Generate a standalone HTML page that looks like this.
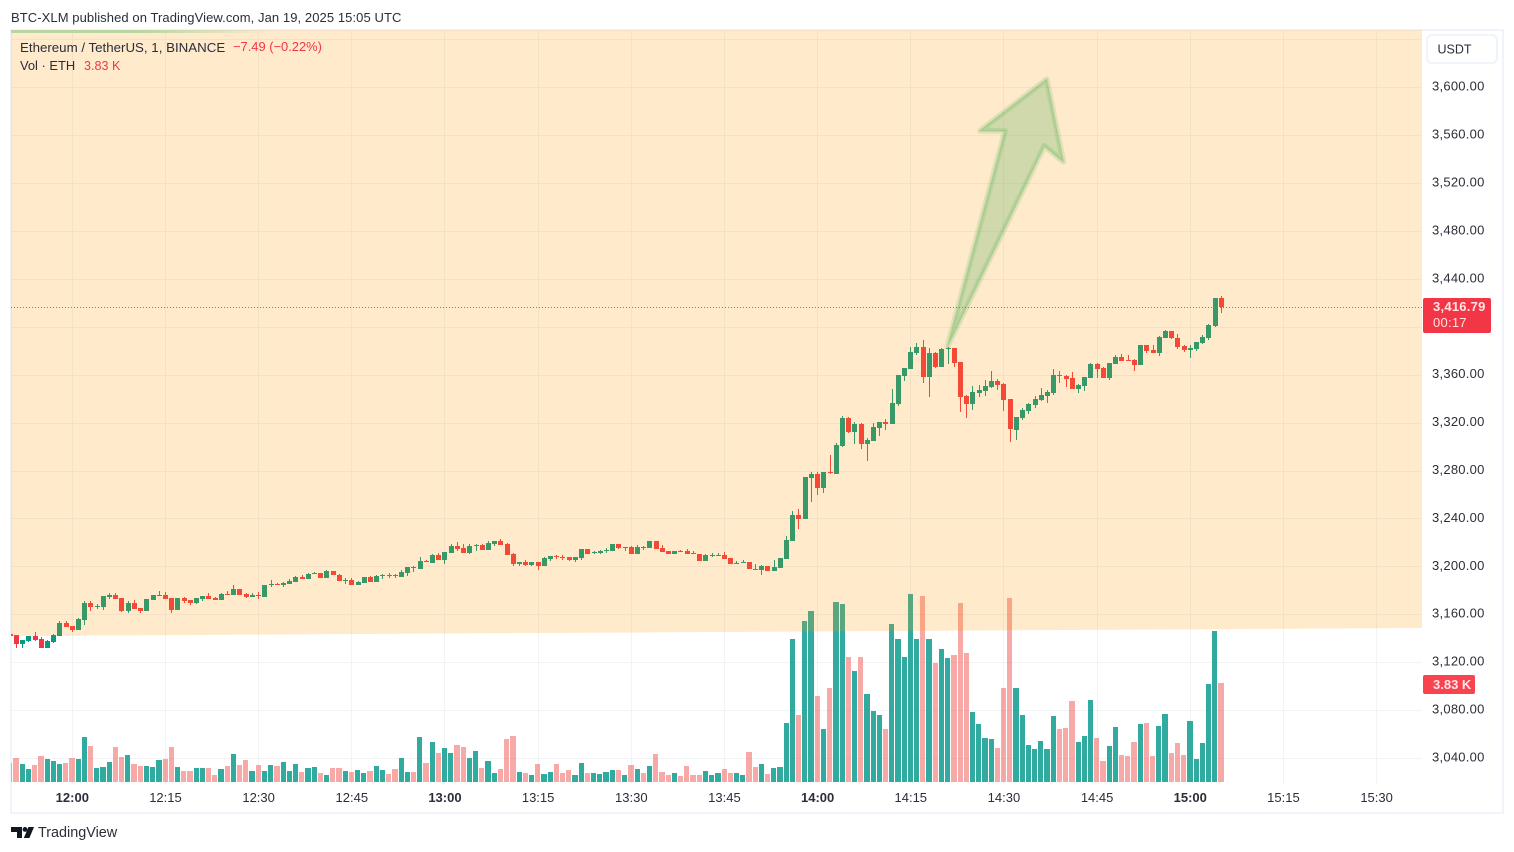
<!DOCTYPE html>
<html lang="en">
<head>
<meta charset="utf-8">
<title>ETHUSDT chart</title>
<style>
html,body{margin:0;padding:0;background:#fff;width:1514px;height:852px;overflow:hidden}
body{position:relative;font-family:"Liberation Sans",sans-serif;color:#2a2e39}
.t{position:absolute;white-space:nowrap;line-height:1}
svg{position:absolute;left:0;top:0}
svg text{font-family:"Liberation Sans",sans-serif}
</style>
</head>
<body>
<svg id="chart" width="1514" height="852" viewBox="0 0 1514 852">
  <defs>
    <clipPath id="pane"><rect x="11" y="30" width="1411" height="755"/></clipPath>
    <linearGradient id="strip" x1="0" x2="1" y1="0" y2="0">
      <stop offset="0" stop-color="#b9d6a0"/><stop offset="0.5" stop-color="#b9d6a0"/><stop offset="1" stop-color="#b9d6a0" stop-opacity="0"/>
    </linearGradient>
  </defs>
  <rect x="11" y="30" width="1492" height="783" fill="#fff" stroke="#f0f3fa" stroke-width="2"/>
  <g id="grid" clip-path="url(#pane)"></g>
  <g id="volumes" clip-path="url(#pane)"></g>
  <g id="candles" clip-path="url(#pane)"></g>
  <line id="lastLine" x1="11" x2="1422" stroke="#f23645" stroke-width="1" stroke-dasharray="1 2"/>
  <polygon points="11,30 1422,30 1422,628 11,636" fill="rgba(255,152,0,0.2)"/>
  <rect x="11" y="30" width="260" height="3" fill="url(#strip)"/>
  <g>
    <polygon points="947.5,346.5 1005,131 980,130.7 1046.7,79.3 1063.3,161.7 1044.3,146" fill="rgba(76,175,80,0.27)" stroke="rgba(76,175,80,0.17)" stroke-width="6" stroke-linejoin="round"/>
    <polygon points="947.5,346.5 1005,131 980,130.7 1046.7,79.3 1063.3,161.7 1044.3,146" fill="none" stroke="rgba(76,175,80,0.2)" stroke-width="2" stroke-linejoin="round"/>
  </g>
  <g id="priceAxis"></g>
  <g id="timeAxis"></g>
  <rect x="1427" y="35" width="70" height="28" rx="5" fill="#fff" stroke="#f0f3fa" stroke-width="2"/>
  <text x="1437.5" y="53.5" font-size="12.5" fill="#2a2e39">USDT</text>
  <rect x="1423" y="298" width="68" height="35" rx="2" fill="#f23645"/>
  <text x="1433" y="311" font-size="13" font-weight="bold" letter-spacing="0.25" fill="#ffe4e6">3,416.79</text>
  <text x="1433" y="327" font-size="13" letter-spacing="0.25" fill="#ffe4e6">00:17</text>
  <rect x="1423" y="675" width="52" height="19" rx="2" fill="#f9444f"/>
  <text x="1433" y="689" font-size="13" font-weight="bold" fill="#ffe4e6">3.83 K</text>
  <g fill="#131722">
    <path d="M11 827h11v11h-5v-6h-6z"/>
    <circle cx="25" cy="829.4" r="2.4"/>
    <path d="M28.5 827h5.5l-4.6 11h-5.6z"/>
  </g>
</svg>

<div class="t" style="left:11px;top:11px;font-size:13px;letter-spacing:0.08px;color:#2a2e39">BTC-XLM published on TradingView.com, Jan 19, 2025 15:05 UTC</div>
<div class="t" style="left:20px;top:41px;font-size:13.3px;color:#2a2e39">Ethereum / TetherUS, 1, BINANCE</div>
<div class="t" style="left:233px;top:41px;font-size:12.9px;color:#f23645">−7.49 (−0.22%)</div>
<div class="t" style="left:20px;top:60px;font-size:12.9px;color:#2a2e39">Vol · ETH</div>
<div class="t" style="left:84px;top:60px;font-size:12.6px;color:#f23645">3.83 K</div>
<div class="t" style="left:38px;top:826px;font-size:14.4px;color:#2a2e39">TradingView</div>

<script>
const priceTicks = [3640,3600,3560,3520,3480,3440,3400,3360,3320,3280,3240,3200,3160,3120,3080,3040];
const priceLabels = ['', '3,600.00','3,560.00','3,520.00','3,480.00','3,440.00','','3,360.00','3,320.00','3,280.00','3,240.00','3,200.00','3,160.00','3,120.00','3,080.00','3,040.00'];
const timeLabels = ['12:00','12:15','12:30','12:45','13:00','13:15','13:30','13:45','14:00','14:15','14:30','14:45','15:00','15:15','15:30'];
const timeMinutes = [0,15,30,45,60,75,90,105,120,135,150,165,180,195,210];
const boldTimes = ['12:00','13:00','14:00','15:00'];
const firstMinute = -10;
const opens = [3143.5,
3142.7,3135.2,3137.7,3141.8,3139.3,3131.8,3136.8,3141.8,3152.7,3150.2,
3146.8,3155.2,3169.4,3166.3,3166.0,3174.4,3176.0,3173.5,3162.7,3169.4,
3165.2,3162.7,3171.9,3175.2,3176.0,3173.5,3163.5,3173.5,3171.9,3169.4,
3172.7,3175.2,3173.5,3171.9,3176.9,3176.0,3181.1,3176.9,3174.4,3176.0,
3174.4,3184.4,3185.2,3184.4,3185.2,3186.9,3191.1,3189.4,3193.9,3194.4,
3190.2,3196.1,3192.7,3187.7,3188.6,3184.4,3186.1,3191.1,3186.9,3191.9,
3192.7,3192.7,3191.1,3194.4,3199.4,3197.8,3204.4,3202.8,3209.4,3205.3,
3211.1,3217.0,3215.3,3211.1,3217.5,3217.8,3213.6,3218.6,3221.1,3218.6,
3210.3,3201.9,3203.6,3201.1,3203.6,3200.3,3206.1,3208.6,3208.0,3207.8,
3205.3,3206.9,3214.4,3211.4,3211.1,3212.8,3212.8,3218.6,3215.6,3216.1,
3210.3,3216.1,3215.3,3221.1,3215.3,3212.8,3210.3,3212.8,3212.8,3211.1,
3210.3,3204.4,3208.9,3208.9,3209.4,3206.9,3201.9,3202.8,3203.6,3198.3,
3196.9,3200.3,3196.1,3198.6,3206.1,3221.1,3242.8,3239.5,3273.7,3277.0,
3265.4,3278.7,3277.0,3300.4,3323.8,3312.1,3318.8,3302.1,3304.6,3315.4,
3320.4,3318.8,3335.5,3358.8,3364.7,3378.0,3383.1,3358.0,3378.0,3366.4,
3381.4,3382.2,3370.5,3342.2,3335.5,3344.7,3346.3,3349.7,3354.7,3352.2,
3339.7,3313.8,3323.8,3329.6,3334.6,3338.8,3342.2,3344.7,3359.7,3358.9,
3357.2,3348.0,3350.5,3357.2,3368.9,3365.5,3357.2,3368.9,3374.7,3372.2,
3372.2,3368.0,3384.7,3380.6,3378.0,3390.6,3396.4,3390.6,3383.9,3380.8,
3381.4,3386.4,3390.6,3400.6,3424.28];
const highs = [3143.5,
3142.7,3138.5,3142.4,3145.2,3141.0,3138.5,3143.5,3154.3,3154.3,3150.2,
3156.9,3171.0,3171.0,3168.5,3175.2,3177.7,3177.7,3173.5,3171.0,3171.9,
3165.2,3172.7,3176.0,3179.4,3178.6,3173.5,3173.5,3174.4,3171.9,3173.5,
3175.2,3177.7,3174.4,3177.7,3179.4,3184.4,3181.1,3177.7,3177.7,3178.6,
3184.4,3188.6,3186.1,3186.9,3189.4,3191.9,3192.7,3194.4,3195.3,3194.4,
3196.9,3196.1,3193.6,3190.2,3190.2,3187.7,3191.1,3191.9,3192.7,3193.6,
3194.4,3193.6,3196.9,3199.4,3200.3,3207.8,3205.3,3210.3,3211.1,3211.9,
3218.6,3220.3,3218.6,3218.6,3218.6,3218.6,3221.1,3221.1,3222.8,3219.5,
3211.1,3203.6,3205.3,3203.6,3203.6,3207.8,3208.6,3209.4,3209.4,3207.8,
3207.8,3214.4,3214.4,3212.8,3213.6,3215.3,3218.6,3218.6,3216.1,3217.0,
3217.8,3217.0,3221.1,3221.1,3217.8,3212.8,3212.8,3213.6,3214.4,3212.8,
3210.3,3210.3,3211.1,3211.1,3211.9,3206.9,3204.4,3205.3,3203.6,3201.9,
3201.1,3200.3,3205.3,3206.9,3225.3,3246.2,3247.8,3274.6,3278.7,3278.7,
3278.7,3292.9,3302.9,3325.5,3324.6,3320.4,3319.6,3307.1,3319.6,3320.4,
3322.9,3348.0,3359.7,3365.5,3383.1,3386.4,3388.9,3382.2,3378.9,3382.2,
3383.1,3382.2,3370.5,3343.0,3350.5,3351.3,3355.5,3363.0,3356.3,3353.0,
3339.7,3324.6,3332.1,3336.3,3342.2,3348.8,3347.2,3364.7,3363.0,3359.7,
3362.2,3352.2,3358.0,3369.7,3369.7,3366.4,3369.7,3376.4,3377.2,3376.4,
3373.0,3384.7,3384.7,3384.7,3392.2,3397.2,3396.4,3393.9,3384.7,3384.7,
3387.2,3393.1,3402.2,3424.28,3425.6];
const lows = [3141.8,
3131.8,3131.8,3136.8,3137.7,3131.8,3131.8,3136.0,3141.8,3149.3,3145.2,
3146.8,3151.0,3162.7,3164.4,3163.5,3172.7,3172.7,3161.9,3161.0,3164.4,
3161.0,3162.7,3171.9,3175.2,3172.7,3161.0,3163.5,3169.4,3167.7,3168.5,
3171.0,3172.7,3171.9,3171.9,3176.0,3176.0,3176.0,3173.5,3174.4,3172.7,
3174.4,3182.7,3184.4,3182.7,3185.2,3186.9,3189.4,3189.4,3193.6,3190.2,
3190.2,3192.7,3187.7,3185.2,3184.4,3184.4,3186.1,3186.9,3186.9,3189.4,
3190.2,3190.2,3191.1,3191.9,3195.3,3197.8,3203.6,3202.8,3205.3,3201.9,
3211.1,3212.8,3211.1,3210.3,3212.8,3213.6,3213.6,3217.0,3217.8,3209.4,
3200.3,3200.3,3200.3,3200.3,3196.9,3200.3,3204.4,3206.1,3205.3,3204.4,
3203.6,3205.3,3210.3,3210.3,3210.3,3211.1,3212.8,3214.4,3212.8,3210.3,
3210.3,3213.6,3215.3,3214.4,3211.9,3210.3,3210.3,3211.9,3210.3,3210.3,
3204.4,3204.4,3207.8,3208.6,3206.1,3201.9,3201.9,3202.8,3197.8,3197.8,
3192.7,3196.1,3196.1,3198.6,3206.1,3221.1,3231.1,3239.5,3253.7,3259.5,
3261.2,3277.0,3277.0,3299.6,3311.3,3302.1,3297.9,3287.9,3304.6,3308.8,
3313.8,3318.8,3333.8,3354.7,3364.7,3376.4,3353.0,3341.3,3365.5,3366.4,
3368.9,3366.4,3328.8,3323.8,3330.5,3341.3,3342.2,3348.8,3347.2,3329.6,
3303.8,3305.4,3322.1,3327.1,3332.1,3338.0,3336.3,3343.0,3353.0,3349.7,
3348.0,3344.7,3346.3,3357.2,3357.2,3357.2,3355.5,3368.9,3371.4,3371.4,
3363.0,3368.0,3378.0,3378.0,3375.5,3390.6,3389.7,3381.4,3378.9,3373.9,
3379.7,3385.6,3388.9,3399.7,3411.4];
const closes = [3141.8,
3135.2,3138.5,3141.8,3138.5,3131.8,3137.7,3142.7,3152.7,3149.3,3146.8,
3156.0,3169.4,3166.0,3167.1,3175.2,3175.8,3172.7,3162.7,3169.4,3164.4,
3162.7,3172.7,3176.0,3175.8,3172.7,3163.5,3173.5,3171.0,3169.4,3173.5,
3175.2,3172.7,3171.9,3176.9,3176.0,3181.1,3176.0,3174.4,3176.0,3175.2,
3184.4,3185.2,3184.4,3186.1,3187.7,3191.1,3189.4,3193.6,3194.4,3190.2,
3196.1,3192.7,3187.7,3188.6,3184.4,3186.9,3191.1,3186.9,3191.9,3192.7,
3191.9,3191.9,3195.3,3199.4,3198.6,3204.4,3203.6,3209.4,3205.3,3211.9,
3217.0,3214.4,3211.1,3217.0,3218.1,3213.6,3219.5,3221.1,3217.8,3209.4,
3201.9,3203.6,3201.1,3203.6,3200.3,3206.9,3208.6,3207.8,3207.5,3205.3,
3207.8,3214.4,3210.3,3212.2,3212.8,3213.6,3218.6,3215.3,3216.1,3210.3,
3216.1,3215.3,3221.1,3214.4,3211.9,3210.3,3212.8,3211.9,3210.3,3210.3,
3204.4,3209.4,3209.7,3209.7,3206.1,3201.9,3202.8,3203.6,3197.8,3197.8,
3200.3,3196.1,3199.4,3206.9,3222.0,3242.8,3239.5,3274.6,3277.0,3265.4,
3278.7,3277.9,3301.3,3323.8,3312.1,3318.8,3302.1,3305.4,3316.3,3320.4,
3318.8,3336.3,3359.7,3365.5,3378.9,3383.1,3358.0,3378.0,3366.4,3381.4,
3382.2,3369.7,3341.3,3335.5,3345.5,3347.2,3350.5,3354.7,3351.3,3338.8,
3314.6,3324.6,3330.5,3335.5,3339.7,3343.0,3345.5,3359.7,3358.9,3356.4,
3348.0,3351.3,3358.0,3368.9,3364.7,3357.2,3369.7,3374.7,3371.4,3371.4,
3368.0,3384.7,3379.7,3378.0,3391.4,3396.4,3390.6,3383.1,3380.6,3382.2,
3387.2,3391.4,3401.4,3424.28,3416.79];
const volumesK = [0.74,
0.93,0.70,0.50,0.66,1.01,0.89,0.81,0.70,0.74,0.93,
0.89,1.74,1.39,0.54,0.58,0.77,1.35,0.97,1.04,0.70,
0.62,0.62,0.58,0.85,0.89,1.35,0.58,0.43,0.43,0.54,
0.54,0.54,0.27,0.50,0.62,1.08,0.66,0.85,0.43,0.66,
0.43,0.66,0.62,0.77,0.43,0.70,0.39,0.54,0.58,0.35,
0.27,0.54,0.54,0.43,0.39,0.46,0.35,0.43,0.62,0.46,
0.31,0.50,0.93,0.39,0.39,1.74,0.74,1.55,1.12,1.32,
1.12,1.43,1.35,0.93,1.20,0.54,0.81,0.35,0.50,1.66,
1.78,0.39,0.35,0.27,0.70,0.31,0.39,0.70,0.35,0.46,
0.27,0.74,0.35,0.35,0.31,0.39,0.46,0.46,0.27,0.66,
0.50,0.35,0.62,1.08,0.39,0.27,0.35,0.23,0.62,0.27,
0.27,0.43,0.27,0.35,0.50,0.35,0.35,0.27,1.16,0.58,
0.70,0.31,0.54,0.58,2.28,5.53,2.59,6.23,6.62,3.33,
2.05,3.64,6.96,6.89,4.84,4.29,4.84,3.40,2.75,2.59,
2.05,6.11,5.53,4.84,7.27,5.53,7.20,5.53,4.60,5.15,
4.80,4.91,6.92,4.99,2.71,2.24,1.70,1.66,1.32,3.64,
7.12,3.64,2.59,1.43,1.28,1.59,1.28,2.55,2.05,2.09,
3.13,1.55,1.78,3.17,1.70,0.81,1.39,2.13,1.04,1.01,
1.55,2.24,2.28,1.01,2.17,2.63,1.12,1.51,1.04,2.36,
0.89,1.51,3.79,5.84,3.83];

const NS = 'http://www.w3.org/2000/svg';
function xOfMinute(m){ return 72.3 + m * 6.211; }
function yOfPrice(p){ return 87.3 + (3600 - p) * 1.198; }
function yOfVolume(v){ return 782 - v * 25.85; }
function make(tag, parent){ const n = document.createElementNS(NS, tag); parent.appendChild(n); return n; }

const gridG = document.getElementById('grid');
const volG = document.getElementById('volumes');
const candleG = document.getElementById('candles');
const priceG = document.getElementById('priceAxis');
const timeG = document.getElementById('timeAxis');

priceTicks.forEach(function(p, i){
  const y = Math.round(yOfPrice(p) - 0.1) + 0.5;
  const line = make('line', gridG);
  
  
  line.setAttribute('x1', 11);
  line.setAttribute('x2', 1422);
  line.setAttribute('y1', y);
  line.setAttribute('y2', y);
  line.setAttribute('stroke', '#f2f3f5');
  if (priceLabels[i]) {
    const t = make('text', priceG);
    
    
    t.setAttribute('x', 1432);
    t.setAttribute('y', yOfPrice(p) + 3.3);
    t.setAttribute('font-size', '13');
    t.setAttribute('letter-spacing', '0.25');
    t.setAttribute('fill', '#2a2e39');
    t.textContent = priceLabels[i];
  }
});

timeLabels.forEach(function(label, i){
  const x = xOfMinute(timeMinutes[i]);
  const line = make('line', gridG);
  
  
  line.setAttribute('x1', Math.floor(x) + 0.5);
  line.setAttribute('x2', Math.floor(x) + 0.5);
  line.setAttribute('y1', 30);
  line.setAttribute('y2', 785);
  line.setAttribute('stroke', '#f2f3f5');
  const t = make('text', timeG);
  
  
  t.setAttribute('x', x);
  t.setAttribute('y', 802);
  t.setAttribute('text-anchor', 'middle');
  t.setAttribute('font-size', '13');
  t.setAttribute('fill', '#2a2e39');
  if (boldTimes.indexOf(label) >= 0) { t.setAttribute('font-weight', 'bold'); }
  t.textContent = label;
});

closes.forEach(function(c, i){
  const o = opens[i];
  const up = c >= o;
  const x = xOfMinute(firstMinute + i);
  const left = Math.round(x - 2.5);

  const bar = make('rect', volG);
  
  
  const barTop = Math.round(yOfVolume(volumesK[i]));
  const barLeft = Math.floor(x - 2.45);
  const barRight = Math.floor(xOfMinute(firstMinute + i + 1) - 2.45) - 1;
  bar.setAttribute('x', barLeft);
  bar.setAttribute('y', barTop);
  bar.setAttribute('width', barRight - barLeft);
  bar.setAttribute('height', 782 - barTop);
  bar.setAttribute('fill', up ? 'rgba(38,166,154,0.95)' : 'rgba(239,83,80,0.5)');

  const color = up ? '#089981' : '#f23645';
  const wick = make('rect', candleG);
  
  
  const wTop = Math.round(yOfPrice(highs[i]));
  const wBot = Math.round(yOfPrice(lows[i]));
  wick.setAttribute('x', left + 2);
  wick.setAttribute('y', wTop);
  wick.setAttribute('width', 1);
  wick.setAttribute('height', Math.max(1, wBot - wTop));
  wick.setAttribute('fill', color);

  const body = make('rect', candleG);
  
  
  const bTop = Math.round(yOfPrice(Math.max(o, c)));
  const bBot = Math.round(yOfPrice(Math.min(o, c)));
  body.setAttribute('x', left);
  body.setAttribute('y', bTop);
  body.setAttribute('width', 5);
  body.setAttribute('height', Math.max(1, bBot - bTop));
  body.setAttribute('fill', color);
});

const lastY = Math.round(yOfPrice(closes[closes.length - 1])) + 0.5;
const lastLine = document.getElementById('lastLine');
lastLine.setAttribute('y1', lastY);
lastLine.setAttribute('y2', lastY);
</script>
</body>
</html>
